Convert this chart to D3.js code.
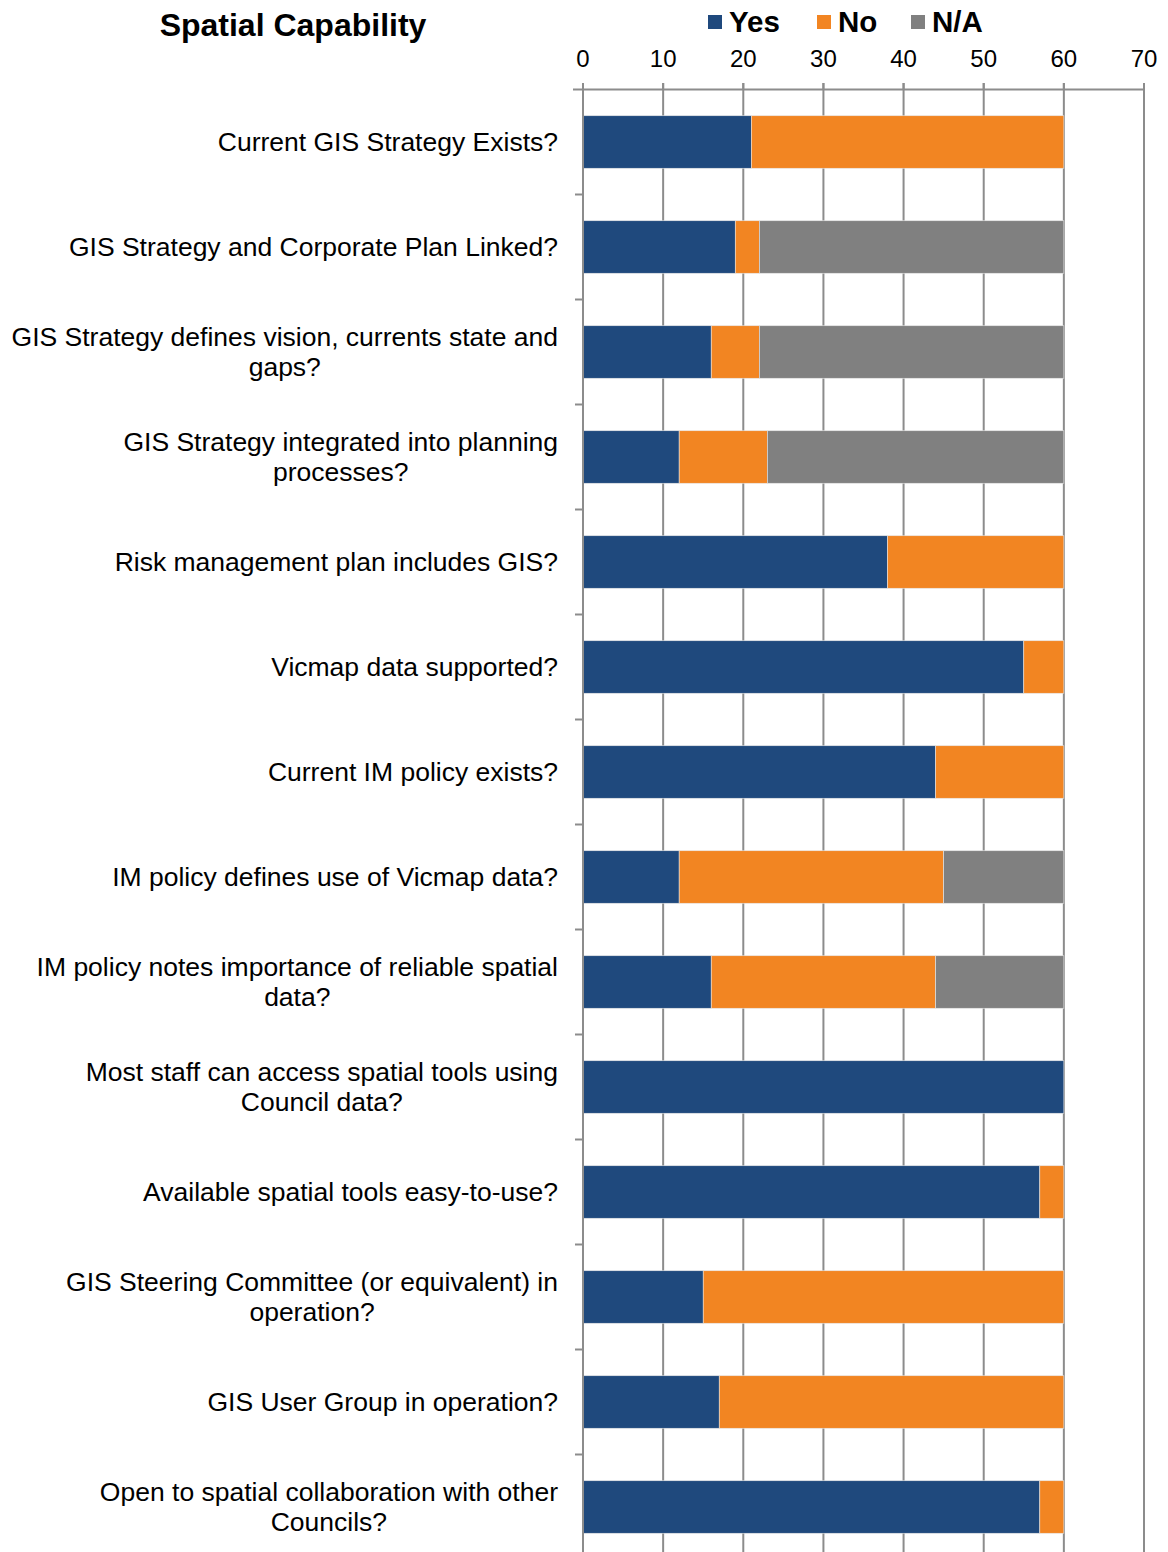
<!DOCTYPE html>
<html>
<head>
<meta charset="utf-8">
<script src="https://cdn.jsdelivr.net/npm/d3@7"></script>
<style>
  body { margin: 0; background: #fff; }
  svg text { font-family: "Liberation Sans", Arial, sans-serif; fill: #000; }
</style>
</head>
<body>
<svg id="chart" width="1168" height="1552"></svg>
<script>
/* ── Data ─────────────────────────────────────────────────────── */
const categories = [
  ["Current GIS Strategy Exists?"],
  ["GIS Strategy and Corporate Plan Linked?"],
  ["GIS Strategy defines vision, currents state and", "gaps?"],
  ["GIS Strategy integrated into planning", "processes?"],
  ["Risk management plan includes GIS?"],
  ["Vicmap data supported?"],
  ["Current IM policy exists?"],
  ["IM policy defines use of Vicmap data?"],
  ["IM policy notes importance of reliable spatial", "data?"],
  ["Most staff can access spatial tools using", "Council data?"],
  ["Available spatial tools easy-to-use?"],
  ["GIS Steering Committee (or equivalent) in", "operation?"],
  ["GIS User Group in operation?"],
  ["Open to spatial collaboration with other", "Councils?"]
];
const yesValues = [21, 19, 16, 12, 38, 55, 44, 12, 16, 60, 57, 15, 17, 57];
const noValues  = [39,  3,  6, 11, 22,  5, 16, 33, 28,  0,  3, 45, 43,  3];
const naValues  = [ 0, 38, 38, 37,  0,  0,  0, 15, 16,  0,  0,  0,  0,  0];
const seriesNames = ["Yes", "No", "N/A"];
const xTicks = [0, 10, 20, 30, 40, 50, 60, 70];

const COLORS = { "Yes": "#1f497d", "No": "#f28522", "N/A": "#808080" };
const GRID = "#8c8c8c";

/* ── Layout ───────────────────────────────────────────────────── */
const svg = d3.select("#chart");
const x = d3.scaleLinear().domain([0, 70]).range([583, 1144]);
const y = d3.scaleBand()
  .domain(d3.range(categories.length))
  .range([89.5, 1559.5])
  .paddingInner(0.5)
  .paddingOuter(0.25);

/* Stack the three series */
const rows = categories.map((c, i) => ({
  i, "Yes": yesValues[i], "No": noValues[i], "N/A": naValues[i]
}));
const stacked = d3.stack().keys(seriesNames)(rows);

/* ── Gridlines ────────────────────────────────────────────────── */
svg.append("g").selectAll("line")
  .data(xTicks.slice(1))
  .enter().append("line")
    .attr("x1", d => x(d)).attr("x2", d => x(d))
    .attr("y1", 83).attr("y2", 1552)
    .attr("stroke", GRID).attr("stroke-width", 2);

/* ── Bars ─────────────────────────────────────────────────────── */
svg.append("g").selectAll("g")
  .data(stacked)
  .enter().append("g")
    .attr("fill", d => COLORS[d.key])
  .selectAll("rect")
  .data(d => d)
  .enter().append("rect")
    .attr("x", d => x(d[0]))
    .attr("width", d => x(d[1]) - x(d[0]))
    .attr("y", d => y(d.data.i))
    .attr("height", y.bandwidth())
    .attr("stroke", "#e6e6e6")
    .attr("stroke-width", 0.6);

/* ── Top axis ─────────────────────────────────────────────────── */
const topAxis = svg.append("g");
topAxis.append("line")
  .attr("x1", 573).attr("x2", 1144)
  .attr("y1", 89.5).attr("y2", 89.5)
  .attr("stroke", GRID).attr("stroke-width", 2);
topAxis.selectAll("line.tick")
  .data(xTicks)
  .enter().append("line")
    .attr("class", "tick")
    .attr("x1", d => x(d)).attr("x2", d => x(d))
    .attr("y1", 83).attr("y2", 90)
    .attr("stroke", GRID).attr("stroke-width", 2);
topAxis.selectAll("text")
  .data(xTicks)
  .enter().append("text")
    .attr("x", d => x(d))
    .attr("y", 67)
    .attr("text-anchor", "middle")
    .style("font-size", "24px")
    .text(d => d);

/* ── Left axis ────────────────────────────────────────────────── */
svg.append("line")
  .attr("x1", 583).attr("x2", 583)
  .attr("y1", 89).attr("y2", 1552)
  .attr("stroke", GRID).attr("stroke-width", 2);
svg.append("g").selectAll("line")
  .data(d3.range(1, categories.length + 1))
  .enter().append("line")
    .attr("x1", 575).attr("x2", 583)
    .attr("y1", i => 89.5 + i * y.step())
    .attr("y2", i => 89.5 + i * y.step())
    .attr("stroke", GRID).attr("stroke-width", 2);

/* ── Category labels (right-aligned block, centred lines) ────── */
const LINE_H = 30.5;
const labels = svg.append("g");
categories.forEach((lines, i) => {
  const cy = y(i) + y.bandwidth() / 2;
  const g = labels.append("g");
  const texts = lines.map((t, k) => g.append("text")
    .attr("y", cy + (k - (lines.length - 1) / 2) * LINE_H + 9)
    .style("font-size", "26.5px")
    .text(t));
  const maxW = d3.max(texts, t => t.node().getComputedTextLength());
  texts.forEach(t => t.attr("x", 558 - maxW / 2).attr("text-anchor", "middle"));
});

/* ── Title ────────────────────────────────────────────────────── */
svg.append("text")
  .attr("x", 293).attr("y", 36)
  .attr("text-anchor", "middle")
  .style("font-size", "32px").style("font-weight", "bold")
  .text("Spatial Capability");

/* ── Legend ───────────────────────────────────────────────────── */
const legendX = [708, 817, 911];
const legend = svg.append("g");
seriesNames.forEach((s, k) => {
  legend.append("rect")
    .attr("x", legendX[k]).attr("y", 15)
    .attr("width", 14).attr("height", 14)
    .attr("fill", COLORS[s]);
  legend.append("text")
    .attr("x", legendX[k] + 21).attr("y", 32)
    .style("font-size", "29.5px").style("font-weight", "bold")
    .text(s);
});
</script>
</body>
</html>
